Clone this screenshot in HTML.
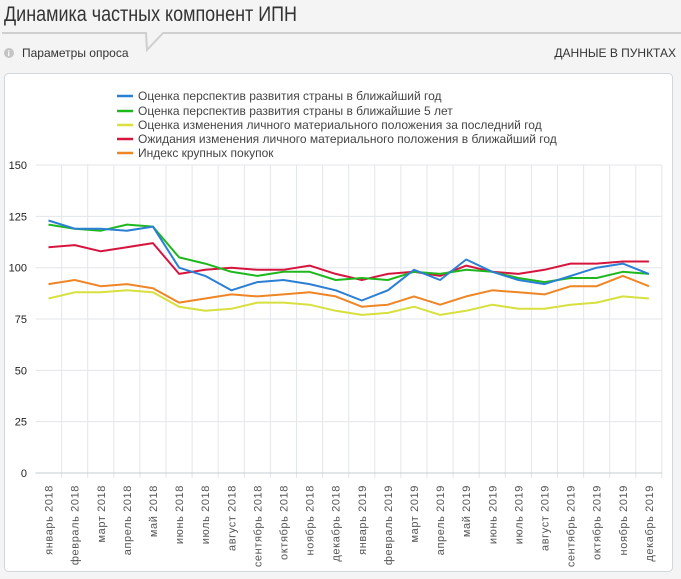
<!DOCTYPE html>
<html><head><meta charset="utf-8"><style>
html,body{margin:0;padding:0;background:#f4f4f4;}
svg{display:block;font-family:"Liberation Sans",sans-serif;}
</style></head><body>
<svg width="681" height="579" viewBox="0 0 681 579" xmlns="http://www.w3.org/2000/svg">
<rect width="681" height="579" fill="#f4f4f4"/>
<text x="4" y="21" font-size="21" fill="#333" textLength="293" lengthAdjust="spacingAndGlyphs">Динамика частных компонент ИПН</text>
<polyline points="2,33 146,33 147,50 163,33 681,33" fill="none" stroke="#cfcfcf" stroke-width="2"/>
<circle cx="9" cy="53" r="5" fill="#c4c4c4"/>
<text x="7.6" y="56" font-size="8" fill="#fff" font-weight="bold">i</text>
<text x="22" y="57" font-size="12" fill="#333">Параметры опроса</text>
<text x="676" y="57" font-size="12" fill="#333" text-anchor="end">ДАННЫЕ В ПУНКТАХ</text>
<rect x="4.5" y="73.5" width="668" height="498" rx="4" fill="#fff" stroke="#d2d7dc"/>
<g font-size="12" fill="#444">
<line x1="117" y1="96" x2="133" y2="96" stroke="#2b7fd4" stroke-width="2.5"/><text x="138" y="100">Оценка перспектив развития страны в ближайший год</text>
<line x1="117" y1="111" x2="133" y2="111" stroke="#1eb81e" stroke-width="2.5"/><text x="138" y="115">Оценка перспектив развития страны в ближайшие 5 лет</text>
<line x1="117" y1="125" x2="133" y2="125" stroke="#d7e03c" stroke-width="2.5"/><text x="138" y="129">Оценка изменения личного материального положения за последний год</text>
<line x1="117" y1="139" x2="133" y2="139" stroke="#d6153f" stroke-width="2.5"/><text x="138" y="143">Ожидания изменения личного материального положения в ближайший год</text>
<line x1="117" y1="153" x2="133" y2="153" stroke="#ef8524" stroke-width="2.5"/><text x="138" y="157">Индекс крупных покупок</text>
</g>
<g id="grid" stroke="#e3e6ea" stroke-width="1"></g>
<g id="ylab" font-size="11" fill="#222" text-anchor="end"></g>
<g id="xlab" font-size="11" fill="#555"></g>
<g id="series" fill="none" stroke-width="2" stroke-linejoin="round"></g>
<script>
var NS="http://www.w3.org/2000/svg";
function el(p,t,a,txt){var e=document.createElementNS(NS,t);for(var k in a)e.setAttribute(k,a[k]);if(txt)e.textContent=txt;p.appendChild(e);return e;}
var x0=35.5,dx=26.1,yb=473,k=2.053;
function Y(v){return yb-v*k;}
var g=document.getElementById('grid');
for(var v=25;v<=150;v+=25)el(g,'line',{x1:x0,x2:x0+24*dx,y1:Y(v),y2:Y(v)});
for(var i=1;i<=24;i++){var x=x0+i*dx;el(g,'line',{x1:x,x2:x,y1:Y(150),y2:yb+5});}
el(g,'line',{x1:x0,x2:x0+24*dx,y1:yb,y2:yb,stroke:'#c5ccd3'});
var yl=document.getElementById('ylab');
for(var v=0;v<=150;v+=25)el(yl,'text',{x:27,y:Y(v)+4},String(v));
var m=['январь','февраль','март','апрель','май','июнь','июль','август','сентябрь','октябрь','ноябрь','декабрь'];
var xl=document.getElementById('xlab');
for(var i=0;i<24;i++){var x=x0+dx*(i+0.5)+4;var t=m[i%12]+' '+(i<12?'2018':'2019');
el(xl,'text',{x:x,y:485,transform:'rotate(-90 '+x+' 485)','text-anchor':'end','letter-spacing':'0.6'},t);}
var D=[
['#2b7fd4',[123,119,119,118,120,100,96,89,93,94,92,89,84,89,99,94,104,98,94,92,96,100,102,97]],
['#1eb81e',[121,119,118,121,120,105,102,98,96,98,98,94,95,94,98,97,99,98,95,93,95,95,98,97]],
['#d7e03c',[85,88,88,89,88,81,79,80,83,83,82,79,77,78,81,77,79,82,80,80,82,83,86,85]],
['#d6153f',[110,111,108,110,112,97,99,100,99,99,101,97,94,97,98,96,101,98,97,99,102,102,103,103]],
['#ef8524',[92,94,91,92,90,83,85,87,86,87,88,86,81,82,86,82,86,89,88,87,91,91,96,91]]];
var s=document.getElementById('series');
[2,4,3,1,0].forEach(function(j){var d=D[j];var p=d[1].map(function(v,i){return (x0+dx*(i+0.5)).toFixed(1)+','+Y(v).toFixed(1);}).join(' ');
el(s,'polyline',{points:p,stroke:d[0]});});
</script>
</svg>
</body></html>
